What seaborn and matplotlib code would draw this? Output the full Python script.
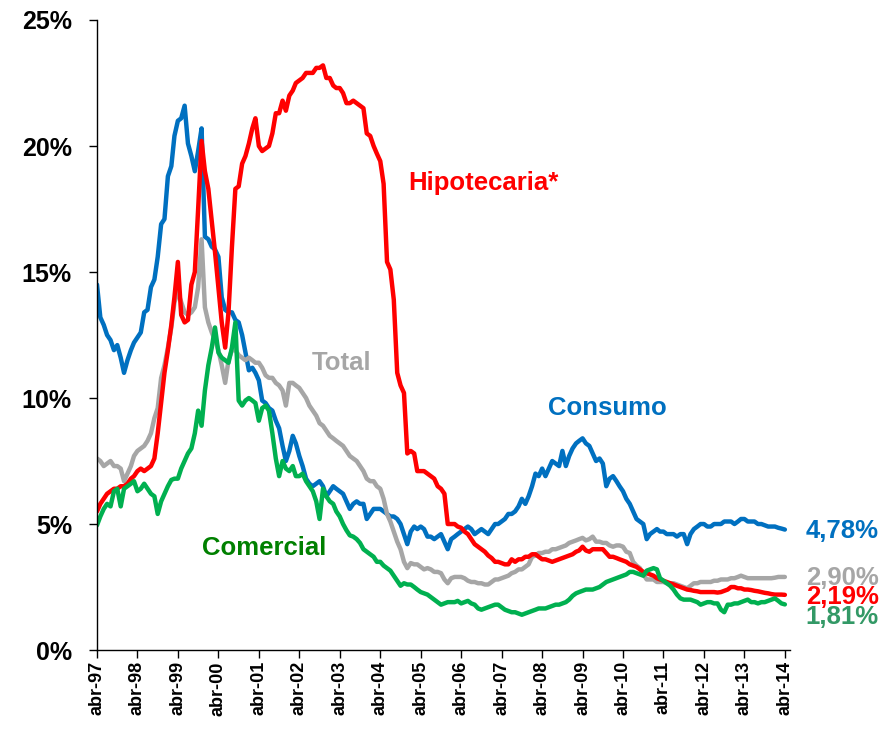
import pandas as pd
import matplotlib
matplotlib.use("Agg")
import matplotlib.pyplot as plt
import matplotlib.ticker as mticker
import seaborn as sns

# ── DATA (monthly, abr-97 .. abr-14, in %) ────────────────
start_month = "1997-04-01"

consumo = [
    14.5, 13.2, 12.9, 12.5, 12.3, 11.9, 12.1, 11.6, 11.0, 11.5, 11.9, 12.2,
    12.4, 12.6, 13.4, 13.5, 14.4, 14.7, 15.6, 16.9, 17.1, 18.8, 19.2, 20.4,
    21.0, 21.1, 21.6, 20.1, 19.6, 19.0, 19.8, 20.7, 16.4, 16.3, 16.0, 15.9,
    15.6, 14.0, 13.5, 13.4, 13.4, 13.1, 13.0, 12.5, 11.8, 11.1, 11.2, 11.0,
    10.7, 9.9, 9.8, 9.6, 9.5, 9.1, 8.8, 8.1, 7.5, 7.9, 8.5, 8.2,
    7.7, 7.3, 6.8, 6.6, 6.5, 6.6, 6.7, 6.5, 6.1, 6.3, 6.5, 6.4,
    6.3, 6.2, 5.9, 5.6, 5.8, 5.9, 5.8, 5.8, 5.2, 5.4, 5.6, 5.6,
    5.6, 5.5, 5.4, 5.3, 5.3, 5.2, 5.0, 4.6, 4.2, 4.7, 4.9, 4.8,
    4.9, 4.8, 4.5, 4.5, 4.4, 4.5, 4.6, 4.3, 4.0, 4.4, 4.5, 4.6,
    4.7, 4.8, 4.9, 4.8, 4.6, 4.7, 4.8, 4.7, 4.6, 4.8, 5.0, 5.0,
    5.1, 5.2, 5.4, 5.4, 5.5, 5.7, 6.0, 5.8, 6.1, 6.5, 7.0, 6.9,
    7.2, 6.9, 7.2, 7.5, 7.4, 7.3, 7.9, 7.3, 7.7, 8.0, 8.2, 8.3,
    8.4, 8.2, 8.1, 7.8, 7.5, 7.6, 7.4, 6.5, 6.8, 6.9, 6.7, 6.5,
    6.3, 6.0, 5.8, 5.5, 5.2, 5.1, 5.0, 4.4, 4.6, 4.7, 4.8, 4.7,
    4.7, 4.6, 4.6, 4.6, 4.5, 4.6, 4.6, 4.2, 4.6, 4.8, 4.9, 5.0,
    5.0, 4.9, 4.9, 5.0, 5.0, 5.0, 5.1, 5.1, 5.1, 5.0, 5.1, 5.2,
    5.2, 5.1, 5.1, 5.1, 5.0, 5.0, 4.95, 4.9, 4.9, 4.9, 4.85, 4.82,
    4.78,
]

hipotecaria = [
    5.5, 5.8, 6.0, 6.2, 6.3, 6.4, 6.4, 6.5, 6.5, 6.6, 6.8, 6.9,
    7.1, 7.2, 7.1, 7.2, 7.3, 7.6, 8.6, 9.8, 11.0, 11.9, 12.9, 14.0,
    15.4, 13.3, 13.0, 13.1, 14.5, 15.0, 17.5, 20.2, 19.0, 18.3, 17.0, 15.8,
    14.4, 13.0, 12.0, 13.4, 16.0, 18.3, 18.4, 19.3, 19.6, 20.1, 20.7, 21.1,
    20.0, 19.8, 19.9, 20.0, 20.5, 21.3, 21.3, 21.8, 21.4, 22.0, 22.2, 22.5,
    22.6, 22.7, 22.9, 22.9, 22.9, 23.1, 23.1, 23.2, 22.7, 22.7, 22.4, 22.3,
    22.3, 22.1, 21.7, 21.7, 21.8, 21.7, 21.6, 21.5, 20.5, 20.4, 20.0, 19.7,
    19.4, 18.5, 15.4, 15.1, 13.9, 11.0, 10.5, 10.2, 7.8, 7.9, 7.8, 7.1,
    7.1, 7.1, 7.0, 6.9, 6.8, 6.5, 6.4, 6.2, 5.0, 5.0, 5.0, 4.9,
    4.85, 4.7, 4.6, 4.4, 4.2, 4.1, 4.0, 3.9, 3.75, 3.65, 3.5, 3.5,
    3.45, 3.4, 3.4, 3.6, 3.5, 3.6, 3.6, 3.7, 3.7, 3.8, 3.8, 3.7,
    3.6, 3.6, 3.55, 3.5, 3.55, 3.6, 3.65, 3.7, 3.75, 3.8, 3.9, 3.95,
    4.1, 3.95, 3.9, 4.0, 4.0, 4.0, 4.0, 3.85, 3.7, 3.7, 3.65, 3.6,
    3.55, 3.5, 3.4, 3.35, 3.3, 3.2, 3.1, 3.05, 3.0, 2.95, 2.85, 2.8,
    2.75, 2.7, 2.65, 2.6, 2.55, 2.5, 2.45, 2.4, 2.38, 2.35, 2.33, 2.3,
    2.3, 2.3, 2.3, 2.3, 2.28, 2.3, 2.35, 2.4, 2.5, 2.5, 2.45, 2.45,
    2.4, 2.4, 2.38, 2.35, 2.33, 2.3, 2.27, 2.25, 2.22, 2.2, 2.2, 2.2,
    2.19,
]

total = [
    7.6, 7.5, 7.3, 7.4, 7.5, 7.3, 7.3, 7.2, 6.7, 7.0, 7.3, 7.7,
    7.9, 8.0, 8.1, 8.3, 8.6, 9.2, 9.6, 10.8, 11.3, 12.0, 12.8, 13.8,
    14.2, 13.8, 13.4, 13.3, 13.4, 13.6, 14.4, 16.3, 13.6, 13.0, 12.6, 12.3,
    11.9, 11.3, 10.6, 11.5, 11.9, 11.9, 11.7, 11.6, 11.5, 11.6, 11.5, 11.4,
    11.4, 11.2, 10.9, 10.8, 10.8, 10.6, 10.5, 10.3, 9.7, 10.6, 10.6, 10.5,
    10.4, 10.2, 10.0, 9.7, 9.5, 9.3, 9.0, 8.9, 8.7, 8.5, 8.4, 8.3,
    8.2, 8.1, 7.9, 7.7, 7.6, 7.5, 7.3, 7.1, 6.8, 6.7, 6.7, 6.5,
    6.4, 6.0, 5.4, 5.1, 4.7, 4.3, 4.0, 3.5, 3.25, 3.45, 3.4, 3.4,
    3.3, 3.2, 3.25, 3.2, 3.1, 3.1, 3.05, 2.8, 2.65, 2.85, 2.9, 2.9,
    2.9, 2.85, 2.75, 2.7, 2.7, 2.65, 2.65, 2.6, 2.6, 2.7, 2.8, 2.8,
    2.85, 2.9, 2.95, 3.05, 3.1, 3.2, 3.2, 3.3, 3.4, 3.7, 3.75, 3.85,
    3.85, 3.9, 3.9, 4.0, 4.0, 4.05, 4.1, 4.15, 4.25, 4.3, 4.35, 4.4,
    4.45, 4.35, 4.4, 4.5, 4.3, 4.3, 4.25, 4.25, 4.15, 4.1, 4.15, 4.15,
    4.1, 3.9, 3.85, 3.5, 3.35, 3.25, 3.0, 2.8, 2.8, 2.8, 2.7, 2.7,
    2.7, 2.65, 2.65, 2.65, 2.6, 2.55, 2.5, 2.45, 2.55, 2.65, 2.65, 2.7,
    2.7, 2.7, 2.7, 2.75, 2.75, 2.8, 2.8, 2.8, 2.85, 2.85, 2.9, 2.95,
    2.9, 2.85, 2.85, 2.85, 2.85, 2.85, 2.85, 2.85, 2.85, 2.87, 2.9, 2.9,
    2.9,
]

comercial = [
    4.95, 5.3, 5.6, 5.8, 5.7, 6.3, 6.4, 5.7, 6.4, 6.5, 6.6, 6.7,
    6.3, 6.4, 6.6, 6.4, 6.2, 6.1, 5.4, 5.9, 6.2, 6.5, 6.75, 6.8,
    6.8, 7.2, 7.5, 7.8, 8.0, 8.6, 9.5, 8.9, 10.3, 11.3, 12.0, 12.8,
    11.8, 11.6, 11.5, 11.4, 12.0, 13.0, 9.9, 9.7, 9.9, 10.0, 9.9, 9.8,
    9.1, 9.6, 9.7, 9.5, 8.6, 7.6, 6.9, 7.5, 7.2, 7.1, 7.3, 6.9,
    6.9, 7.0, 6.7, 6.5, 6.3, 5.9, 5.2, 6.4, 6.1, 5.9, 5.8, 5.5,
    5.3, 5.0, 4.75, 4.55, 4.5, 4.4, 4.25, 4.0, 3.9, 3.8, 3.7, 3.5,
    3.5, 3.35, 3.25, 3.15, 2.95, 2.75, 2.55, 2.65, 2.6, 2.6, 2.5, 2.4,
    2.3, 2.25, 2.2, 2.1, 2.0, 1.9, 1.8, 1.85, 1.9, 1.9, 1.9, 1.95,
    1.85, 1.9, 1.95, 1.85, 1.8, 1.65, 1.6, 1.65, 1.7, 1.75, 1.8, 1.8,
    1.7, 1.6, 1.55, 1.5, 1.5, 1.45, 1.4, 1.45, 1.5, 1.55, 1.6, 1.65,
    1.65, 1.65, 1.7, 1.75, 1.8, 1.8, 1.85, 1.9, 2.0, 2.15, 2.25, 2.3,
    2.35, 2.4, 2.4, 2.4, 2.45, 2.5, 2.6, 2.7, 2.75, 2.8, 2.85, 2.9,
    2.95, 3.0, 3.1, 3.1, 3.05, 3.0, 2.95, 3.15, 3.2, 3.25, 3.2, 2.85,
    2.75, 2.65, 2.55, 2.4, 2.2, 2.05, 2.0, 2.0, 2.0, 1.95, 1.9, 1.8,
    1.85, 1.9, 1.9, 1.85, 1.85, 1.6, 1.5, 1.8, 1.8, 1.85, 1.85, 1.9,
    1.95, 2.0, 1.9, 1.9, 1.85, 1.9, 1.9, 1.95, 2.0, 2.05, 1.95, 1.85,
    1.81,
]

tick_labels = ["abr-97", "abr-98", "abr-99", "abr-00", "abr-01", "abr-02",
               "abr-03", "abr-04", "abr-05", "abr-06", "abr-07", "abr-08",
               "abr-09", "abr-10", "abr-11", "abr-12", "abr-13", "abr-14"]

series_names = ["Consumo", "Total", "Hipotecaria*", "Comercial"]
end_labels = ["4,78%", "2,90%", "2,19%", "1,81%"]

# ── STYLE ─────────────────────────────────────────────────
sns.set_theme(style="white")
plt.rcParams["font.family"] = ["Liberation Sans", "DejaVu Sans"]
plt.rcParams["font.weight"] = "bold"

BLUE, RED, GRAY, GREEN = "#0070C0", "#FF0000", "#A6A6A6", "#00B050"

months = pd.date_range(start_month, periods=len(consumo), freq="MS")
df = pd.DataFrame({"fecha": months, "Consumo": consumo, "Hipotecaria*": hipotecaria,
                   "Total": total, "Comercial": comercial})

fig = plt.figure(figsize=(8.94, 7.38), dpi=100)
ax = fig.add_axes([0.1085, 0.1192, 0.775, 0.8537])

# drawing order: blue, gray, red, green on top
for name, col in [("Consumo", BLUE), ("Total", GRAY),
                  ("Hipotecaria*", RED), ("Comercial", GREEN)]:
    sns.lineplot(data=df, x="fecha", y=name, color=col, linewidth=3.2, ax=ax,
                 solid_joinstyle="round")

# ── AXES ──────────────────────────────────────────────────
ax.set_ylim(0, 25)
ax.yaxis.set_major_locator(mticker.MultipleLocator(5))
ax.yaxis.set_major_formatter(mticker.FuncFormatter(lambda v, _: f"{v:.0f}%"))
ax.set_xlim(months[0], pd.Timestamp("2014-05-16"))
ticks = pd.date_range(start_month, periods=len(tick_labels), freq="12MS")
ax.set_xticks(ticks)
ax.set_xticklabels(tick_labels, rotation=90)
ax.set_xlabel("")
ax.set_ylabel("")

for s in ["top", "right"]:
    ax.spines[s].set_visible(False)
for s in ["left", "bottom"]:
    ax.spines[s].set_color("black")
    ax.spines[s].set_linewidth(1.0)

ax.tick_params(axis="y", direction="out", length=6, width=1, color="black",
               left=True, pad=12, labelsize=18, labelcolor="black")
ax.tick_params(axis="x", direction="out", length=6, width=1, color="black",
               bottom=True, pad=2, labelsize=13, labelcolor="black")
for lbl in ax.get_xticklabels() + ax.get_yticklabels():
    lbl.set_fontweight("bold")

# ── LABELS ────────────────────────────────────────────────
ax.text(0.449, 0.741, "Hipotecaria*", color=RED, fontsize=18.5, fontweight="bold",
        transform=ax.transAxes, ha="left", va="center")
ax.text(0.310, 0.456, "Total", color=GRAY, fontsize=18.5, fontweight="bold",
        transform=ax.transAxes, ha="left", va="center")
ax.text(0.651, 0.384, "Consumo", color=BLUE, fontsize=18.5, fontweight="bold",
        transform=ax.transAxes, ha="left", va="center")
ax.text(0.1515, 0.162, "Comercial", color="#008000", fontsize=18.5, fontweight="bold",
        transform=ax.transAxes, ha="left", va="center")

end_colors = [BLUE, GRAY, RED, "#339966"]
end_y = [0.189, 0.114, 0.084, 0.052]
for txt, col, yy in zip(end_labels, end_colors, end_y):
    ax.text(1.023, yy, txt, color=col, fontsize=18.5, fontweight="bold",
            transform=ax.transAxes, ha="left", va="center", clip_on=False)

fig.savefig("out.png", dpi=100)
